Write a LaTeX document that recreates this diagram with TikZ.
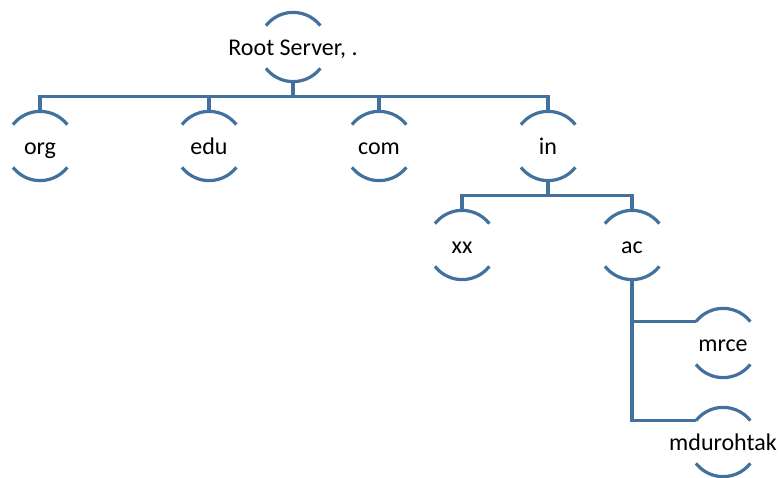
\documentclass[tikz,border=0pt]{standalone}
\usepackage{fontspec}
\setmainfont{Carlito}
\usepackage{tikz}
\usetikzlibrary{positioning,calc}
\definecolor{treeblue}{RGB}{65,113,156}

\tikzset{
  treeline/.style={draw=treeblue, line width=3.2pt},
  dnsnode/.style={circle, minimum size=69pt, inner sep=0pt,
    label={[font=\fontsize{24}{28}\selectfont, text height=17pt,
      text depth=0pt, inner sep=0pt]center:#1}},
}

\begin{document}
\begin{tikzpicture}[x=1pt, y=1pt]
\useasboundingbox (0,0) rectangle (781,-478);

% ---------------- domain nodes ----------------
\node[dnsnode={Root Server, .}] (root) at (293,-47) {};
\node[dnsnode=org] (org) at (40,-146) {};
\node[dnsnode=edu] (edu) at (209,-146) {};
\node[dnsnode=com] (com) at (379,-146) {};
\node[dnsnode=in]  (in)  at (548,-146) {};
\node[dnsnode=xx]  (xx)  at (462,-245) {};
\node[dnsnode=ac]  (ac)  at (632,-245) {};
\node[dnsnode=mrce] (mrce) at (723,-343) {};
\node[dnsnode=mdurohtak] (mdu) at (723,-442) {};

% top and bottom arcs of every node
\foreach \n in {root,org,edu,com,in,xx,ac,mrce,mdu} {
  \draw[treeline] (\n.38) arc[start angle=38, end angle=142, radius=34.5pt];
  \draw[treeline] (\n.-38) arc[start angle=-38, end angle=-142, radius=34.5pt];
}

% ---------------- connectors ----------------
\foreach \c in {org,edu,com,in}
  \draw[treeline] (root.south) -- ++(0,-14.5) -| (\c.north);
\foreach \c in {xx,ac}
  \draw[treeline] (in.south) -- ++(0,-14.5) -| (\c.north);
\draw[treeline] (ac.south) |- (mrce.142);
\draw[treeline] (ac.south) |- (mdu.142);

\end{tikzpicture}
\end{document}
